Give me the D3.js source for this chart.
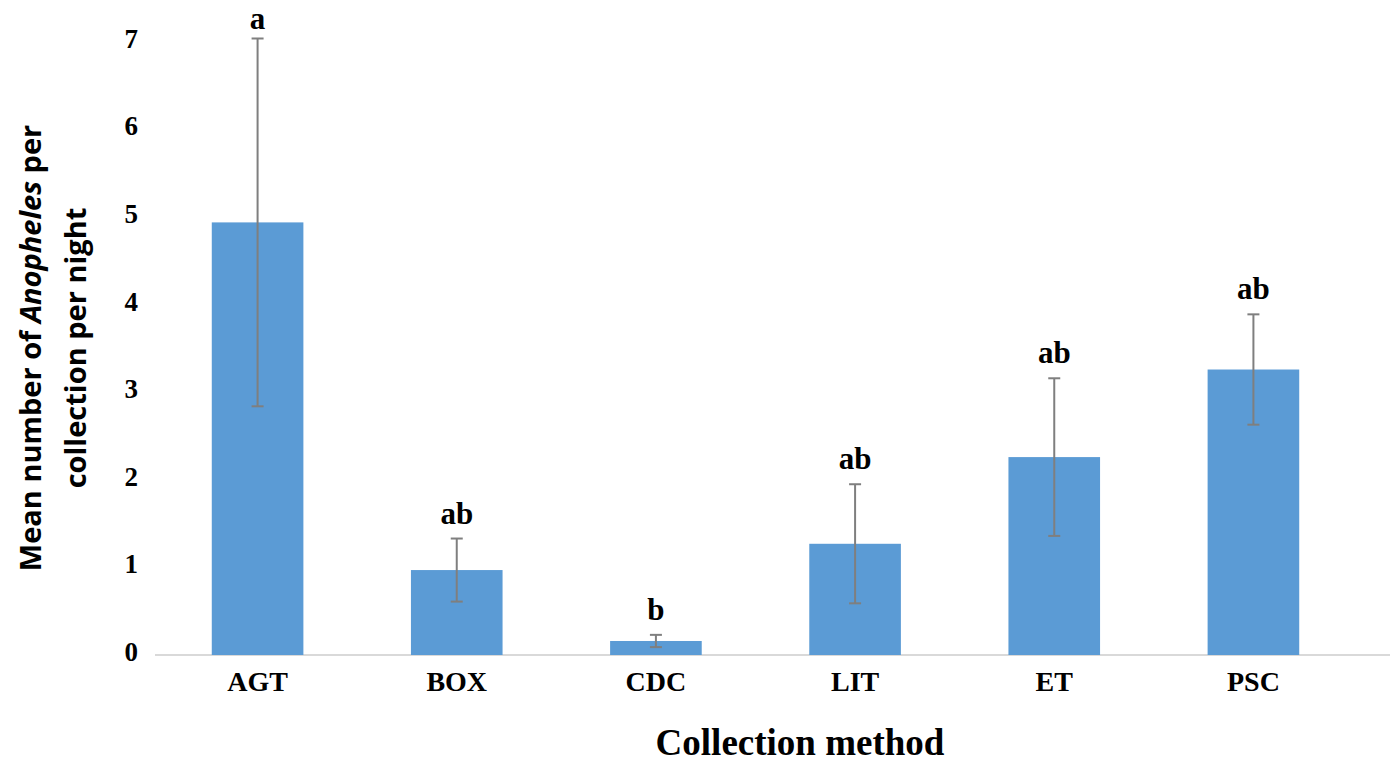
<!DOCTYPE html>
<html>
<head>
<meta charset="utf-8">
<script src="https://cdn.jsdelivr.net/npm/d3@7"></script>
<style>
  html, body { margin: 0; padding: 0; background: #fff; }
  svg { display: block; }
</style>
</head>
<body>
<svg id="chart" width="1400" height="762"></svg>
<script>
const categories = ["AGT", "BOX", "CDC", "LIT", "ET", "PSC"];
const means = [4.94, 0.97, 0.16, 1.27, 2.26, 3.26];
const errors = [2.10, 0.36, 0.07, 0.68, 0.90, 0.63];
const letters = ["a", "ab", "b", "ab", "ab", "ab"];
const yTicks = [0, 1, 2, 3, 4, 5, 6, 7];

const svg = d3.select("#chart");
const x = d3.scaleBand().domain(categories).range([158, 1353]).paddingInner(0.54).paddingOuter(0.27);
const y = d3.scaleLinear().domain([0, 7]).range([655, 42]);

const serif = "'Liberation Serif', 'Times New Roman', serif";

// baseline
svg.append("line")
  .attr("x1", 155).attr("x2", 1390)
  .attr("y1", y(0)).attr("y2", y(0))
  .attr("stroke", "#d9d9d9").attr("stroke-width", 2);

// bars
svg.selectAll("rect.bar").data(categories).enter().append("rect")
  .attr("class", "bar")
  .attr("x", d => x(d))
  .attr("width", x.bandwidth())
  .attr("y", (d, i) => y(means[i]))
  .attr("height", (d, i) => y(0) - y(means[i]))
  .attr("fill", "#5b9bd5");

// error bars
const eg = svg.selectAll("g.err").data(categories).enter().append("g").attr("class", "err")
  .attr("stroke", "#7f7f7f").attr("stroke-width", 2);
eg.append("line")
  .attr("x1", d => x(d) + x.bandwidth() / 2).attr("x2", d => x(d) + x.bandwidth() / 2)
  .attr("y1", (d, i) => y(means[i] + errors[i])).attr("y2", (d, i) => y(means[i] - errors[i]));
eg.append("line")
  .attr("x1", d => x(d) + x.bandwidth() / 2 - 6).attr("x2", d => x(d) + x.bandwidth() / 2 + 6)
  .attr("y1", (d, i) => y(means[i] + errors[i])).attr("y2", (d, i) => y(means[i] + errors[i]));
eg.append("line")
  .attr("x1", d => x(d) + x.bandwidth() / 2 - 6).attr("x2", d => x(d) + x.bandwidth() / 2 + 6)
  .attr("y1", (d, i) => y(means[i] - errors[i])).attr("y2", (d, i) => y(means[i] - errors[i]));

// significance letters
svg.selectAll("text.letter").data(categories).enter().append("text")
  .attr("class", "letter")
  .attr("x", d => x(d) + x.bandwidth() / 2)
  .attr("y", (d, i) => Math.max(y(means[i] + errors[i]) - 15, 29))
  .attr("text-anchor", "middle")
  .attr("font-family", serif).attr("font-weight", "bold").attr("font-size", 31)
  .attr("fill", "#000")
  .text((d, i) => letters[i]);

// y axis (labels only)
const yAxis = d3.axisLeft(y).tickValues(yTicks).tickSize(0).tickPadding(0).tickFormat(d3.format("d"));
const yg = svg.append("g").attr("transform", "translate(138,0)").call(yAxis);
yg.select(".domain").remove();
yg.selectAll("text")
  .attr("font-family", serif).attr("font-weight", "bold").attr("font-size", 27)
  .attr("fill", "#000").attr("dy", "0.2em");

// x axis (labels only)
const xAxis = d3.axisBottom(x).tickSize(0).tickPadding(0);
const xg = svg.append("g").attr("transform", `translate(0,${y(0)})`).call(xAxis);
xg.select(".domain").remove();
xg.selectAll("text")
  .attr("font-family", serif).attr("font-weight", "bold").attr("font-size", 28)
  .attr("fill", "#000").attr("dy", "1.3em");

// x title
svg.append("text")
  .attr("x", 800).attr("y", 755)
  .attr("text-anchor", "middle")
  .attr("font-family", serif).attr("font-weight", "bold").attr("font-size", 37)
  .attr("fill", "#000")
  .text("Collection method");

// y title
const yt = svg.append("text")
  .attr("transform", "translate(0,348) rotate(-90)")
  .attr("text-anchor", "middle")
  .attr("font-family", "'Open Sans', 'DejaVu Sans', sans-serif").attr("font-weight", "bold").attr("font-size", 29)
  .attr("fill", "#000");
const l1 = yt.append("tspan").attr("x", 0).attr("y", 41);
l1.append("tspan").text("Mean number of ");
l1.append("tspan").attr("font-style", "italic").text("Anopheles");
l1.append("tspan").text(" per");
yt.append("tspan").attr("x", 0).attr("y", 86).text("collection per night");
</script>
</body>
</html>
